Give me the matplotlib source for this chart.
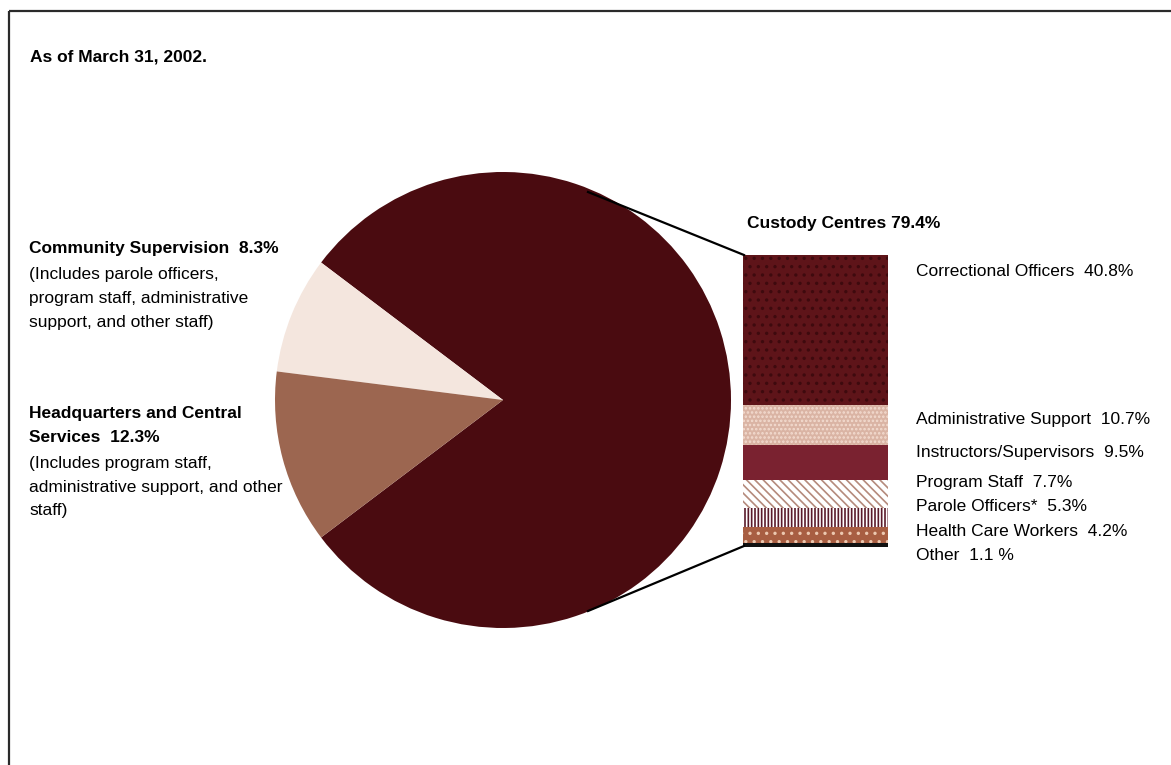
import matplotlib
matplotlib.use("Agg")
import matplotlib.pyplot as plt
from matplotlib.patches import Rectangle

# ---- data ----
pie_labels = ["Custody Centres", "Community Supervision", "Headquarters and Central Services"]
pie_values = [79.4, 8.3, 12.3]
pie_colors = ["#4a0b10", "#f4e6de", "#9c6650"]

custody_labels = ["Correctional Officers", "Administrative Support", "Instructors/Supervisors",
                  "Program Staff", "Parole Officers*", "Health Care Workers", "Other"]
custody_values = [40.8, 10.7, 9.5, 7.7, 5.3, 4.2, 1.1]
custody_texts = ["Correctional Officers  40.8%", "Administrative Support  10.7%",
                 "Instructors/Supervisors  9.5%", "Program Staff  7.7%",
                 "Parole Officers*  5.3%", "Health Care Workers  4.2%", "Other  1.1 %"]

plt.rcParams["font.family"] = ["Liberation Sans Narrow", "Liberation Sans", "DejaVu Sans"]
plt.rcParams["hatch.linewidth"] = 1.2

W, H = 1171, 765
fig = plt.figure(figsize=(W / 100, H / 100), dpi=100)


def box(x0, y0, w, h):
    # pixel box (top-left origin) -> figure fraction
    return [x0 / W, 1 - (y0 + h) / H, w / W, h / H]


# ---- pie ----
cx, cy, r = 503, 400, 228
axp = fig.add_axes(box(cx - r, cy - r, 2 * r, 2 * r))
axp.pie(pie_values, colors=pie_colors, startangle=-pie_values[0] / 100 * 180,
        counterclock=True, radius=1, wedgeprops=dict(linewidth=0))
axp.set_xlim(-1, 1)
axp.set_ylim(-1, 1)
axp.axis("off")

# ---- custody breakdown bar ----
bx, by, bw, bh = 743, 255, 145, 292
axb = fig.add_axes(box(bx, by, bw, bh))
total = sum(custody_values)
faces = ["#5e1419", "#dab4a4", "#7a2230", "#ffffff", "#ffffff", "#a85e42", "#111111"]
hatch_cols = ["#3e0a0e", "#f3dcd0", "#7a2230", "#b58a7c", "#5a1a2a", "#ecc8b0", "#111111"]
hatches = ["..", "....", None, "\\\\\\\\", "|||||", "..", None]
top = total
for val, fc, hc, ht in zip(custody_values, faces, hatch_cols, hatches):
    axb.bar(0.5, val, width=1, bottom=top - val, color=fc, edgecolor=hc,
            hatch=ht, linewidth=0)
    top -= val
axb.set_xlim(0, 1)
axb.set_ylim(0, total)
axb.axis("off")

# ---- overlay: frame, connectors, text ----
ax = fig.add_axes([0, 0, 1, 1])
ax.set_xlim(0, W)
ax.set_ylim(H, 0)
ax.axis("off")
ax.patch.set_alpha(0)

ax.add_patch(Rectangle((9, 11), W + 20, H + 20, fill=False, edgecolor="#2a2a2a", linewidth=1.6))
ax.plot([588, bx + 1], [192, by], color="black", linewidth=1.6)
ax.plot([588, bx + 1], [611, by + bh - 1], color="black", linewidth=1.6)

fs = 12.5
ax.text(30, 57, "As of March 31, 2002.", fontsize=fs, fontweight="bold", va="center")
ax.text(747, 223, "Custody Centres 79.4%", fontsize=fs, fontweight="bold", va="center")

ys = [271, 419, 452, 482, 506, 532, 555]
for y, t in zip(ys, custody_texts):
    ax.text(916, y, t, fontsize=fs, va="center")

ax.text(29, 248, "Community Supervision  8.3%", fontsize=fs, fontweight="bold", va="center")
for y, t in zip([274, 298, 322], ["(Includes parole officers,", "program staff, administrative",
                                  "support, and other staff)"]):
    ax.text(29, y, t, fontsize=fs, va="center")

ax.text(29, 413, "Headquarters and Central", fontsize=fs, fontweight="bold", va="center")
ax.text(29, 437, "Services  12.3%", fontsize=fs, fontweight="bold", va="center")
for y, t in zip([463, 487, 510], ["(Includes program staff,",
                                  "administrative support, and other", "staff)"]):
    ax.text(29, y, t, fontsize=fs, va="center")

fig.savefig("out.png", dpi=100)
